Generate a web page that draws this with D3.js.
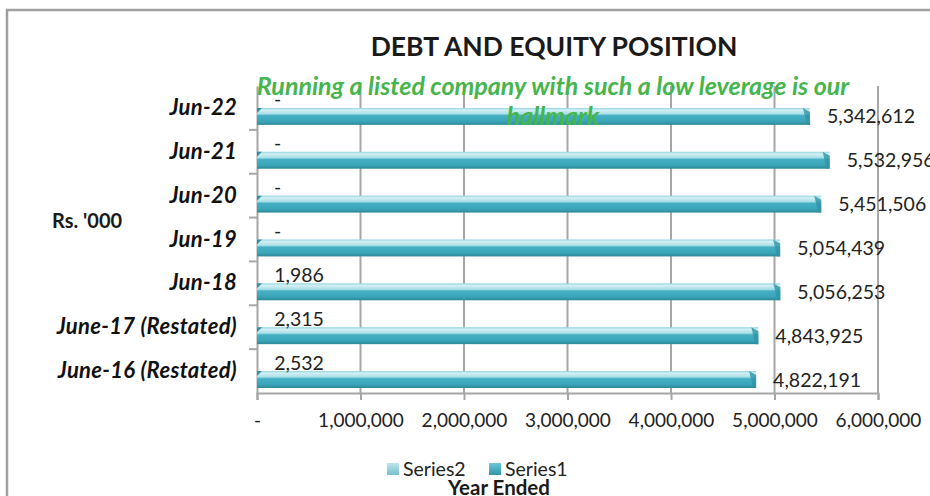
<!DOCTYPE html>
<html>
<head>
<meta charset="utf-8">
<script src="https://cdn.jsdelivr.net/npm/d3@7"></script>
<style>
  body { margin: 0; background: #fff; }
  svg { display: block; font-family: Lato, "Open Sans", sans-serif; }
</style>
</head>
<body>
<div id="chart"></div>
<script>
// categories top -> bottom, as drawn
var categories = ["Jun-22", "Jun-21", "Jun-20", "Jun-19", "Jun-18", "June-17 (Restated)", "June-16 (Restated)"];
var seriesNames = ["Series2", "Series1"];
var series1 = [5342612, 5532956, 5451506, 5054439, 5056253, 4843925, 4822191];
var series2 = [0, 0, 0, 0, 1986, 2315, 2532];
var xTicks = [0, 1000000, 2000000, 3000000, 4000000, 5000000, 6000000];

var width = 930, height = 496;
var plot = { left: 257, right: 878, top: 86, bottom: 393 };

var svg = d3.select("#chart").append("svg")
    .attr("width", width)
    .attr("height", height);

var defs = svg.append("defs");
var grad = defs.append("linearGradient").attr("id", "barGrad")
    .attr("x1", 0).attr("y1", 0).attr("x2", 0).attr("y2", 1);
grad.append("stop").attr("offset", "0%").attr("stop-color", "#8fd3df");
grad.append("stop").attr("offset", "12%").attr("stop-color", "#d3eff4");
grad.append("stop").attr("offset", "35%").attr("stop-color", "#a9dfe8");
grad.append("stop").attr("offset", "45%").attr("stop-color", "#45b0c3");
grad.append("stop").attr("offset", "80%").attr("stop-color", "#3aa5b8");
grad.append("stop").attr("offset", "100%").attr("stop-color", "#2c8797");

var legGrad1 = defs.append("linearGradient").attr("id", "leg1")
    .attr("x1", 0).attr("y1", 0).attr("x2", 0).attr("y2", 1);
legGrad1.append("stop").attr("offset", "0%").attr("stop-color", "#6cc6d5");
legGrad1.append("stop").attr("offset", "100%").attr("stop-color", "#2f97aa");
var legGrad2 = defs.append("linearGradient").attr("id", "leg2")
    .attr("x1", 0).attr("y1", 0).attr("x2", 0).attr("y2", 1);
legGrad2.append("stop").attr("offset", "0%").attr("stop-color", "#bfe5ec");
legGrad2.append("stop").attr("offset", "100%").attr("stop-color", "#74bfcd");

// outer frame
svg.append("path")
    .attr("d", "M7," + height + " V10 H" + width)
    .attr("fill", "none")
    .attr("stroke", "#a0a0a0")
    .attr("stroke-width", 2.5);

var x = d3.scaleLinear().domain([0, 6000000]).range([plot.left, plot.right]);
var y = d3.scaleBand().domain(categories).range([plot.top, plot.bottom]);
var ySub = d3.scaleBand().domain(seriesNames).range([5, y.bandwidth() - 5]);

var fmt = function(v) { return v === 0 ? "-" : d3.format(",")(v); };

// gridlines
svg.append("g").selectAll("line")
    .data(xTicks.slice(1))
    .join("line")
    .attr("x1", function(d) { return x(d); })
    .attr("x2", function(d) { return x(d); })
    .attr("y1", plot.top)
    .attr("y2", plot.bottom)
    .attr("stroke", "#a6a6a6")
    .attr("stroke-width", 2);

// x axis
var xAxis = svg.append("g")
    .attr("transform", "translate(0," + plot.bottom + ")")
    .call(d3.axisBottom(x).tickValues(xTicks).tickSize(7).tickPadding(14).tickFormat(fmt));
xAxis.select(".domain").attr("stroke", "#a6a6a6").attr("stroke-width", 2);
xAxis.selectAll(".tick line").attr("stroke", "#a6a6a6").attr("stroke-width", 2);
xAxis.selectAll("text").attr("font-size", 19).attr("fill", "#222").attr("font-family", "Lato");

// y axis
var yAxis = svg.append("g")
    .attr("transform", "translate(" + plot.left + ",0)")
    .call(d3.axisLeft(y).tickSize(0).tickPadding(20));
yAxis.select(".domain").attr("stroke", "#a6a6a6").attr("stroke-width", 2);
yAxis.selectAll("text")
    .attr("font-size", 22).attr("font-weight", "bold").attr("font-style", "italic")
    .attr("letter-spacing", 0.3)
    .attr("fill", "#111").attr("font-family", "Lato");
svg.append("g").selectAll("line")
    .data(categories.slice(1))
    .join("line")
    .attr("x1", plot.left - 8)
    .attr("x2", plot.left)
    .attr("y1", function(d) { return y(d); })
    .attr("y2", function(d) { return y(d); })
    .attr("stroke", "#a6a6a6")
    .attr("stroke-width", 2);

// bars (Series1)
var bars = svg.append("g").selectAll("g")
    .data(categories)
    .join("g")
    .attr("transform", function(d) { return "translate(0," + (y(d) + ySub("Series1")) + ")"; });
var bh = ySub.bandwidth();
bars.append("rect")
    .attr("x", x(0))
    .attr("y", 0)
    .attr("width", function(d, i) { return x(series1[i]) - x(0); })
    .attr("height", bh)
    .attr("fill", "url(#barGrad)");
// right end bevel
bars.append("path")
    .attr("d", function(d, i) {
        var xe = x(series1[i]);
        return "M" + (xe - 7) + ",0 L" + xe + ",4 L" + xe + "," + bh + " L" + (xe - 3) + "," + bh + " Z";
    })
    .attr("fill", "#2f93a5")
    .attr("opacity", 0.8);
bars.append("path")
    .attr("d", "M" + x(0) + ",0 L" + (x(0) + 5) + ",0 L" + x(0) + ",5 Z")
    .attr("fill", "#2f93a5");

// labels
svg.append("g").selectAll("text")
    .data(categories)
    .join("text")
    .attr("x", function(d, i) { return x(series1[i]) + 17; })
    .attr("y", function(d) { return y(d) + ySub("Series1") + ySub.bandwidth() / 2; })
    .attr("dy", "0.36em")
    .attr("font-size", 19.5)
    .attr("fill", "#222")
    .text(function(d, i) { return fmt(series1[i]); });

svg.append("g").selectAll("text")
    .data(categories)
    .join("text")
    .attr("x", function(d, i) { return x(series2[i]) + 17; })
    .attr("y", function(d) { return y(d) + ySub("Series2") + ySub.bandwidth() / 2; })
    .attr("dy", "0.36em")
    .attr("font-size", 19.5)
    .attr("fill", "#222")
    .text(function(d, i) { return fmt(series2[i]); });

// titles
svg.append("text")
    .attr("x", 554).attr("y", 56)
    .attr("text-anchor", "middle")
    .attr("font-size", 26.5).attr("font-weight", "bold")
    .attr("fill", "#1a1a1a")
    .text("DEBT AND EQUITY POSITION");

var sub = svg.append("text")
    .attr("text-anchor", "middle")
    .attr("font-size", 25).attr("font-weight", "bold").attr("font-style", "italic")
    .attr("fill", "#45b54c");
sub.append("tspan").attr("x", 553).attr("y", 95)
    .text("Running a listed company with such a low leverage is our");
sub.append("tspan").attr("x", 553).attr("y", 125)
    .text("hallmark");

svg.append("text")
    .attr("x", 52).attr("y", 228)
    .attr("font-size", 20).attr("font-weight", "bold")
    .attr("fill", "#1a1a1a")
    .text("Rs. '000");

// legend
var legend = svg.append("g").attr("transform", "translate(387,463)");
var legItems = [{ name: "Series2", fill: "url(#leg2)", x: 0 }, { name: "Series1", fill: "url(#leg1)", x: 102 }];
var li = legend.selectAll("g").data(legItems).join("g")
    .attr("transform", function(d) { return "translate(" + d.x + ",0)"; });
li.append("rect").attr("width", 12).attr("height", 12).attr("fill", function(d) { return d.fill; });
li.append("text").attr("x", 16).attr("y", 6).attr("dy", "0.36em")
    .attr("font-size", 19.5).attr("fill", "#222")
    .text(function(d) { return d.name; });

svg.append("text")
    .attr("x", 499).attr("y", 488).attr("dy", "0.36em")
    .attr("text-anchor", "middle")
    .attr("font-size", 20.5).attr("font-weight", "bold")
    .attr("fill", "#1a1a1a")
    .text("Year Ended");
</script>
</body>
</html>
